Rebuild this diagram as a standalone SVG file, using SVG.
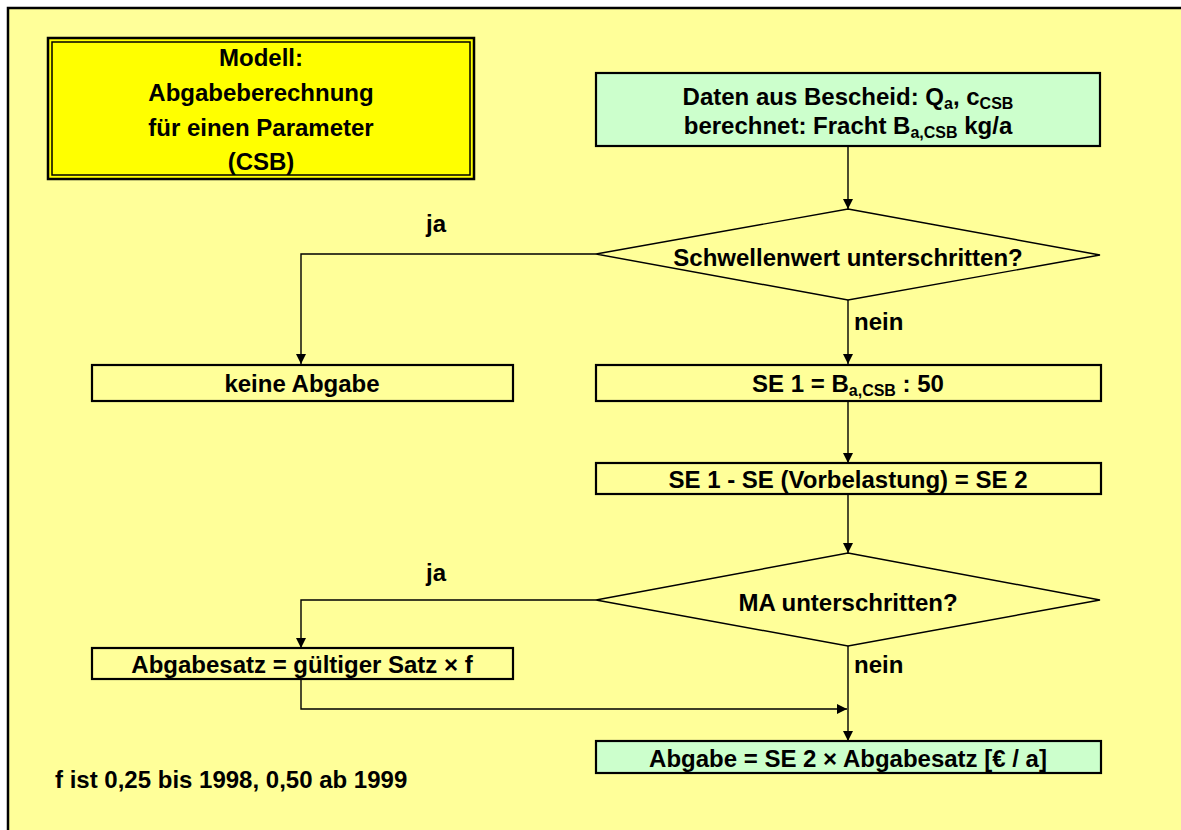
<svg xmlns="http://www.w3.org/2000/svg" width="1181" height="830" viewBox="0 0 1181 830">
  <style>
    text { font-family: "Liberation Sans", Arial, sans-serif; font-weight: bold; font-size: 24px; fill: #000; }
    .c { text-anchor: middle; }
    .sub { font-size: 16px; }
    .box { stroke: #000; stroke-width: 2.2; }
    .plain { fill: #FFFF99; }
    .green { fill: #CCFFCC; }
    .dia { fill: #FFFF99; stroke: #000; stroke-width: 1.4; }
    .wire { fill: none; stroke: #000; stroke-width: 1.4; }
  </style>
  <defs>
    <marker id="arrow" viewBox="0 0 10 10" refX="10" refY="5" markerWidth="10" markerHeight="10" markerUnits="userSpaceOnUse" orient="auto">
      <path d="M0,0 L10,5 L0,10 Z" fill="#000"/>
    </marker>
  </defs>

  <!-- page -->
  <rect x="0" y="0" width="1181" height="830" fill="#fff"/>
  <rect x="8" y="8" width="1200" height="900" fill="#FFFF99" stroke="#000" stroke-width="2.5"/>

  <!-- connectors -->
  <g id="connectors">
    <line class="wire" x1="848" y1="146" x2="848" y2="209" marker-end="url(#arrow)"/>
    <polyline class="wire" points="596,254 301,254 301,364" marker-end="url(#arrow)"/>
    <line class="wire" x1="848" y1="300" x2="848" y2="364" marker-end="url(#arrow)"/>
    <line class="wire" x1="848" y1="401" x2="848" y2="463" marker-end="url(#arrow)"/>
    <line class="wire" x1="848" y1="494" x2="848" y2="553" marker-end="url(#arrow)"/>
    <polyline class="wire" points="596,600 301,600 301,648" marker-end="url(#arrow)"/>
    <line class="wire" x1="848" y1="646" x2="848" y2="741" marker-end="url(#arrow)"/>
    <polyline class="wire" points="301,679 301,709 847,709" marker-end="url(#arrow)"/>
    <text x="436" y="232" class="c">ja</text>
    <text x="854" y="330">nein</text>
    <text x="436" y="581" class="c">ja</text>
    <text x="854" y="673">nein</text>
  </g>

  <!-- title -->
  <g id="title">
    <rect x="48" y="38" width="426" height="141" fill="#FFFF00" stroke="#000" stroke-width="2.5"/>
    <rect x="52" y="42" width="418" height="133" fill="none" stroke="#000" stroke-width="1.5"/>
    <text x="261" y="66" class="c">Modell:</text>
    <text x="261" y="101" class="c">Abgabeberechnung</text>
    <text x="261" y="136" class="c">für einen Parameter</text>
    <text x="261" y="170" class="c">(CSB)</text>
  </g>

  <g id="input">
    <rect class="box green" x="596" y="73" width="504" height="73"/>
    <text x="848" y="105" class="c">Daten aus Bescheid: Q<tspan class="sub" dy="4">a</tspan><tspan dy="-4">, c</tspan><tspan class="sub" dy="4">CSB</tspan></text>
    <text x="848" y="134" class="c">berechnet: Fracht B<tspan class="sub" dy="4">a,CSB</tspan><tspan dy="-4"> kg/a</tspan></text>
  </g>

  <g id="threshold">
    <polygon class="dia" points="848,209 1100,255 848,300 596,254"/>
    <text x="848" y="266" class="c">Schwellenwert unterschritten?</text>
  </g>

  <g id="no-charge">
    <rect class="box plain" x="92" y="365" width="421" height="36"/>
    <text x="302" y="392" class="c">keine Abgabe</text>
  </g>

  <g id="se1">
    <rect class="box plain" x="596" y="365" width="505" height="36"/>
    <text x="848" y="392" class="c">SE 1 = B<tspan class="sub" dy="4">a,CSB</tspan><tspan dy="-4"> : 50</tspan></text>
  </g>

  <g id="se2">
    <rect class="box plain" x="596" y="463" width="505" height="31"/>
    <text x="848" y="488" class="c">SE 1 - SE (Vorbelastung) = SE 2</text>
  </g>

  <g id="ma">
    <polygon class="dia" points="848,553 1100,600 848,646 596,600"/>
    <text x="848" y="611" class="c">MA unterschritten?</text>
  </g>

  <g id="rate">
    <rect class="box plain" x="92" y="648" width="421" height="31"/>
    <text x="302" y="673" class="c">Abgabesatz = gültiger Satz × f</text>
  </g>

  <g id="charge">
    <rect class="box green" x="596" y="741" width="505" height="32"/>
    <text x="848" y="767" class="c">Abgabe = SE 2 × Abgabesatz [€ / a]</text>
  </g>

  <g id="note">
    <text x="55" y="788">f ist 0,25 bis 1998, 0,50 ab 1999</text>
  </g>
</svg>
